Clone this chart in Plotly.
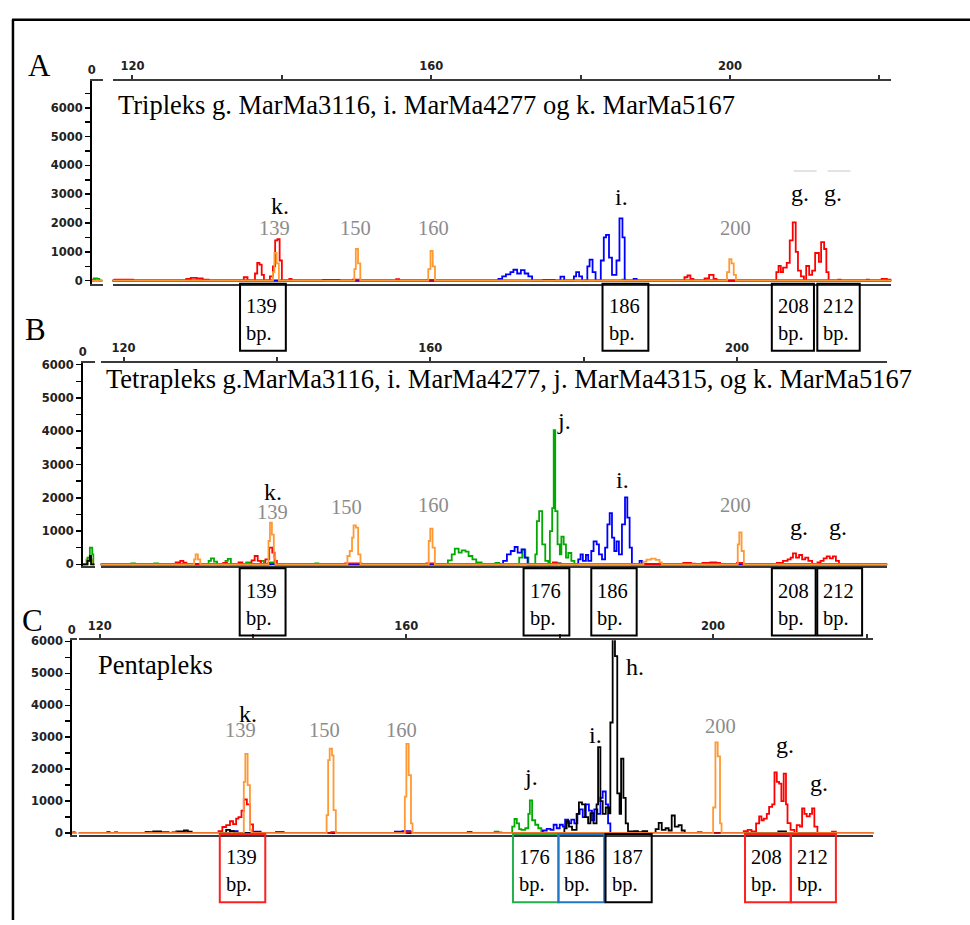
import plotly.graph_objects as go

W, H = 970, 925
def fx(px): return px / W
def fy(py): return 1 - py / H

RED, ORANGE, BLUE, GREEN, BLACK = "#ff0000", "#ff9933", "#0000ff", "#00aa00", "#000000"
GRAY = "#8c8c8c"

# ---------------- Panel A data (bp, RFU) ----------------
A_red = [(117.3,0),(117.6,40),(120.1,0),(127.2,60),(127.8,100),(128.6,80),(129.4,40),(130.2,0),
         (134.9,120),(135.4,0),(136.4,250),(136.7,620),(137.0,560),(137.3,200),(137.6,0),
         (138.4,150),(138.8,500),(139.1,1400),(139.4,1440),(139.7,700),(140.0,0),(141.0,60),(141.3,0),
         (149.5,40),(150.5,0),(155.3,50),(155.7,0),(159.5,30),(160.4,0),
         (193.9,120),(194.3,180),(194.7,60),(195.1,0),(196.6,80),(197.2,200),(197.8,60),(198.2,0),
         (206.2,300),(206.5,510),(206.8,300),(207.1,450),(207.6,620),(208.0,1400),(208.4,2020),
         (208.8,1000),(209.1,350),(209.5,150),(209.9,0),(210.2,510),(210.6,200),(211.0,350),
         (211.4,960),(211.9,650),(212.2,1340),(212.6,1100),(212.9,300),(213.2,0),(214.5,40),(214.8,0),
         (218.3,40),(218.6,0),(220.3,60),(221.0,40),(221.6,0)]
A_orange = [(117.3,0),(138.6,0),(138.8,300),(139.0,960),(139.3,600),(139.6,0),
            (149.5,0),(149.7,400),(149.9,1100),(150.2,600),(150.5,0),
            (159.4,0),(159.6,400),(159.9,1030),(160.2,500),(160.5,0),
            (199.4,0),(199.6,300),(199.9,750),(200.2,600),(200.5,200),(200.8,0),(221.6,0)]
A_blue = [(117.3,0),(145.5,30),(147.7,0),(169.0,60),(169.5,150),(170.0,220),(170.6,300),(171.0,380),
          (171.5,250),(172.0,370),(172.5,250),(173.0,150),(173.5,0),(175.0,30),(176.5,0),
          (177.3,140),(177.8,0),(179.1,150),(179.4,300),(179.8,150),(180.2,0),(180.9,500),(181.2,730),
          (181.6,300),(182.0,0),(182.7,700),(183.1,1500),(183.4,1590),(183.8,800),(184.2,200),
          (184.8,700),(185.2,2160),(185.6,1500),(185.9,0),(187.1,60),(187.5,0),(221.6,0)]
A_green = [(117.3,0),(185.6,40),(186.0,0),(221.6,0)]
A_black = [(117.3,0),(221.6,0)]
A_nar_green = [(0,0),(2,80),(5,60),(7,0),(10,0)]
A_nar_red = [(0,0),(1,40),(3,0),(10,0)]
A_nar_orange = [(0,0),(10,0)]

# ---------------- Panel B data ----------------
B_red = [(117.0,0),(126.8,60),(127.4,100),(127.8,50),(128.2,0),(133.0,40),(133.5,0),(135.0,60),(135.5,0),
         (136.7,120),(137.1,250),(137.5,100),(137.9,0),(138.5,150),(139.0,500),(139.4,350),(139.7,100),(140.0,0),
         (148.9,30),(151.0,0),(159.5,30),(160.6,0),(176.0,60),(176.5,0),(193.0,40),(194.0,20),(194.5,0),
         (195.5,40),(196.5,60),(197.3,40),(197.8,0),(200.0,40),(200.8,0),(205.2,40),(206.0,100),(206.6,150),
         (207.0,200),(207.3,330),(207.7,200),(208.1,280),(208.5,150),(208.9,200),(209.3,100),(209.8,0),
         (210.5,60),(210.9,100),(211.3,180),(211.7,240),(212.1,180),(212.5,240),(212.9,100),(213.3,0),(219.6,0)]
B_orange = [(117.0,0),(129.0,0),(129.2,150),(129.4,300),(129.7,150),(130.0,0),
            (138.7,0),(138.9,700),(139.1,1250),(139.35,890),(139.6,200),(139.8,0),
            (148.9,0),(149.2,250),(149.5,400),(149.8,800),(150.0,1170),(150.3,1100),(150.6,300),(150.9,0),
            (159.6,0),(159.8,700),(160.0,1070),(160.3,500),(160.6,0),
            (187.5,0),(187.8,80),(188.2,140),(188.8,170),(189.4,130),(189.9,60),(190.2,0),
            (199.9,0),(200.1,600),(200.3,960),(200.6,400),(200.9,0),(219.6,0)]
B_green = [(117.0,0),(121.0,30),(121.5,0),(124.0,30),(124.5,0),(131.1,100),(131.4,180),(131.8,80),(132.2,0),
           (133.3,100),(133.6,160),(134.0,0),(136.0,60),(136.5,0),(137.9,100),(138.3,0),(139.2,60),(139.7,0),
           (145.0,30),(145.4,0),(162.3,120),(162.8,300),(163.2,470),(163.7,350),(164.1,420),(164.6,380),
           (165.0,250),(165.5,150),(166.0,60),(166.7,0),(168.5,40),(169.0,0),(171.6,200),(172.0,440),
           (172.4,200),(172.8,0),(173.7,300),(173.9,1300),(174.2,1600),(174.6,600),(175.0,100),(175.4,0),
           (175.6,1000),(175.9,1690),(176.1,4030),(176.3,1600),(176.6,600),(176.9,300),(177.1,830),
           (177.4,600),(177.7,200),(178.0,340),(178.4,100),(178.8,0),(219.6,0)]
B_blue = [(117.0,0),(169.5,100),(170.0,300),(170.5,400),(171.0,520),(171.4,350),(171.9,450),(172.3,200),
          (172.7,0),(179.3,150),(179.6,300),(179.9,100),(180.3,280),(180.6,100),(181.0,400),(181.3,690),
          (181.7,600),(182.0,300),(182.4,150),(182.8,500),(183.1,1200),(183.4,1540),(183.7,800),(184.0,400),
          (184.3,690),(184.6,300),(185.0,1200),(185.4,2010),(185.7,1400),(186.0,500),(186.3,0),
          (187.3,100),(187.6,0),(219.6,0)]
B_black = [(117.0,0),(138.9,40),(139.8,0),(176.5,30),(177.0,0),(219.6,0)]
B_nar_green = [(0,0),(4,200),(6,500),(8,300),(9,0),(10,0)]
B_nar_black = [(0,0),(4,100),(6,250),(7,0),(10,0)]
B_nar_orange = [(0,0),(3,150),(8,0),(10,0)]

# ---------------- Panel C data ----------------
C_red = [(117.27,0),(122.0,30),(122.3,0),(129.5,30),(130.0,0),(135.5,60),(136.0,190),(136.5,250),(137.0,370),
         (137.4,280),(137.8,450),(138.1,500),(138.5,700),(138.8,1050),(139.2,900),(139.6,270),(140.0,0),
         (150.2,30),(150.8,0),(160.0,40),(160.7,0),(198.0,30),(198.5,0),(204.0,60),(204.5,100),(205.0,50),
         (205.6,300),(206.0,520),(206.3,400),(206.6,450),(207.0,600),(207.3,820),(207.7,900),(208.0,1900),
         (208.3,1600),(208.6,1550),(208.9,1000),(209.2,1860),(209.5,900),(209.7,310),(210.1,100),(210.6,0),
         (210.9,250),(211.3,200),(211.6,770),(211.9,600),(212.2,520),(212.6,600),(212.9,770),(213.2,200),
         (213.6,0),(215.5,40),(216.0,0),(220.9,0)]
C_orange = [(117.27,0),(138.6,0),(138.8,1600),(139.0,2480),(139.3,1500),(139.6,100),(139.8,0),
            (149.4,0),(149.6,560),(149.8,2280),(150.0,2640),(150.3,2430),(150.5,720),(150.8,0),
            (159.6,0),(159.8,1140),(160.0,2790),(160.3,1810),(160.6,300),(160.8,0),
            (199.8,0),(200.0,800),(200.3,2840),(200.6,2400),(200.9,300),(201.1,0),(220.9,0)]
C_green = [(117.27,0),(126.0,30),(126.4,0),(131.0,40),(131.5,0),(171.5,40),(172.0,20),(172.4,0),
           (173.8,200),(174.1,440),(174.4,300),(174.7,120),(175.0,100),(175.5,150),(175.9,600),
           (176.1,1020),(176.4,400),(176.8,260),(177.2,150),(177.6,0),(220.9,0)]
C_blue = [(117.27,0),(128.0,30),(129.0,0),(137.0,60),(138.0,0),(140.0,40),(141.0,0),(158.5,40),(159.5,60),
          (160.5,0),(177.8,80),(178.3,130),(178.8,100),(179.2,260),(179.6,150),(180.0,260),(180.4,200),
          (180.7,420),(181.1,300),(181.5,420),(181.9,300),(182.3,600),(182.6,740),(183.0,500),(183.4,900),
          (183.8,700),(184.2,400),(184.5,740),(184.9,600),(185.3,1100),(185.6,1300),(186.0,900),(186.3,300),
          (186.6,0),(220.9,0)]
C_black = [(117.27,0),(121.0,30),(121.3,0),(126.0,30),(127.0,50),(128.0,0),(130.0,50),(131.0,80),(131.5,40),
           (132.0,0),(136.5,100),(137.0,60),(137.5,0),(143.0,30),(144.0,0),(168.0,30),(168.5,0),
           (180.6,150),(180.9,370),(181.2,200),(181.6,100),(182.2,600),(182.5,960),(182.9,900),(183.3,500),
           (183.7,300),(184.0,620),(184.4,300),(184.8,900),(185.0,2690),(185.3,1000),(185.6,600),(186.0,800),
           (186.4,620),(186.6,3460),(186.9,6100),(187.2,5540),(187.5,1240),(187.8,600),(188.0,2330),
           (188.3,1100),(188.6,300),(188.9,50),(189.7,60),(190.2,30),(190.8,60),(191.4,0),(192.5,120),
           (192.9,320),(193.3,100),(193.8,150),(194.2,80),(194.6,550),(195.0,200),(195.5,250),(195.9,80),
           (196.3,0),(204.0,30),(204.5,0),(208.5,50),(209.5,0),(220.9,0)]
C_nar_orange = [(0,0),(10,0)]
C_nar_red = [(0,0),(3,30),(6,0),(10,0)]

# ---------------- Labels ----------------
A_size_lbl = [("139",138.98,1817),("150",149.91,1817),("160",160.36,1817),("200",200.76,1817)]
A_locus_lbl = [("k.",139.76,2605),("i.",185.47,2914),("g.",209.31,3051),("g.",213.8,3051)]
B_size_lbl = [("139",139.39,1583),("150",149.13,1723),("160",160.48,1791),("200",199.81,1791)]
B_locus_lbl = [("k.",139.5,2168),("j.",177.5,4315),("i.",185.06,2519),("g.",208.03,1108),("g.",213.18,1108)]
C_size_lbl = [("139",138.31,3224),("150",149.26,3224),("160",159.42,3224),("200",200.93,3340)]
C_locus_lbl = [("k.",139.35,3715),("j.",176.26,1741),("i.",184.68,3065),("h.",189.78,5209),
               ("g.",209.37,2762),("g.",213.87,1577)]

A_box_lo = [134.4, 182.93, 205.6, 211.69]
A_box_hi = [140.53, 189.07, 211.24, 217.37]
A_box_txt = ["139", "186", "208", "212"]
B_box_lo = [135.15, 172.17, 181.0, 204.55, 210.47]
B_box_hi = [141.13, 178.14, 186.92, 210.26, 216.32]
B_box_txt = ["139", "176", "186", "208", "212"]
C_box_lo = [135.67, 173.9, 179.83, 185.97, 204.16, 210.13]
C_box_hi = [141.6, 179.83, 185.8, 191.99, 210.13, 216.01]
C_box_txt = ["139", "176", "186", "187", "208", "212"]
C_box_col = ["#ff2020", "#22b04a", "#1f78c8", "#000000", "#ff2020", "#ff2020"]

x_ticks = [120, 140, 160, 180, 200, 220]
x_tick_text = ["120", "", "160", "", "200", ""]

fig = go.Figure()

def add_trace(pts, color, xa, ya):
    fig.add_trace(go.Scatter(x=[p[0] for p in pts], y=[p[1] for p in pts], mode="lines",
                             line=dict(color=color, width=1.8, shape="hv"),
                             xaxis=xa, yaxis=ya, hoverinfo="skip", showlegend=False))

# Panel A
for pts, c in [(A_black, BLACK), (A_green, GREEN), (A_blue, BLUE), (A_red, RED), (A_orange, ORANGE)]:
    add_trace(pts, c, "x", "y")
for pts, c in [(A_nar_red, RED), (A_nar_green, GREEN), (A_nar_orange, ORANGE)]:
    add_trace(pts, c, "x2", "y")
# Panel B
for pts, c in [(B_black, BLACK), (B_green, GREEN), (B_blue, BLUE), (B_red, RED), (B_orange, ORANGE)]:
    add_trace(pts, c, "x3", "y2")
for pts, c in [(B_nar_orange, ORANGE), (B_nar_green, GREEN), (B_nar_black, BLACK)]:
    add_trace(pts, c, "x4", "y2")
# Panel C
for pts, c in [(C_green, GREEN), (C_blue, BLUE), (C_black, BLACK), (C_red, RED), (C_orange, ORANGE)]:
    add_trace(pts, c, "x5", "y3")
for pts, c in [(C_nar_red, RED), (C_nar_orange, ORANGE)]:
    add_trace(pts, c, "x6", "y3")

tickfont = dict(family="DejaVu Sans", size=11.5, color="#222", weight="bold")
LINEC = "#3a3a3a"

def main_x(dom, rng, anchor):
    return dict(domain=[fx(dom[0]), fx(dom[1])], range=rng, side="top", anchor=anchor,
                tickmode="array", tickvals=x_ticks, ticktext=x_tick_text,
                ticks="outside", ticklen=4, tickwidth=2, tickcolor="#333",
                showline=True, linecolor=LINEC, linewidth=2, mirror=True,
                showgrid=False, zeroline=False, tickfont=tickfont, fixedrange=True)

def narrow_x(dom, anchor):
    return dict(domain=[fx(dom[0]), fx(dom[1])], range=[0, 10], side="top", anchor=anchor,
                tickmode="array", tickvals=[0], ticktext=["0"], ticks="",
                showline=True, linecolor=LINEC, linewidth=2, mirror=True,
                showgrid=False, zeroline=False, tickfont=tickfont, fixedrange=True)

def y_ax(dom, rng, anchor):
    return dict(domain=[fy(dom[0]), fy(dom[1])], range=rng, anchor=anchor, side="left",
                tickmode="linear", tick0=0, dtick=1000, ticks="outside", ticklen=5,
                tickwidth=1.5, tickcolor="#000",
                minor=dict(dtick=500, tick0=0, ticks="outside", ticklen=5, tickwidth=1.5,
                           tickcolor="#000", showgrid=False),
                showline=True, linecolor="#000", linewidth=1.5,
                showgrid=False, zeroline=False, tickfont=tickfont, fixedrange=True)

fig.update_layout(
    width=W, height=H, margin=dict(l=0, r=0, t=0, b=0),
    paper_bgcolor="white", plot_bgcolor="white", showlegend=False, hovermode=False,
    xaxis=main_x((109, 891), [117.33, 221.6], "y"),
    xaxis2=narrow_x((88, 99), "y"),
    yaxis=y_ax((281, 76), [-103, 6925], "x2"),
    xaxis3=main_x((97, 887), [117.01, 219.61], "y2"),
    xaxis4=narrow_x((79, 91), "y2"),
    yaxis2=y_ax((567, 361), [-59, 6059], "x4"),
    xaxis5=main_x((75, 873), [117.27, 220.9], "y3"),
    xaxis6=narrow_x((68, 73), "y3"),
    yaxis3=y_ax((839, 642), [-62, 6031], "x6"),
)

ann = []
shapes = []
SERIF = "Liberation Serif"

def add_labels(size_lbl, locus_lbl, xa, ya):
    for t, x, y in size_lbl:
        ann.append(dict(text=t, x=x, y=y, xref=xa, yref=ya, showarrow=False,
                        font=dict(family=SERIF, size=20.5, color=GRAY),
                        xanchor="center", yanchor="middle", borderpad=0))
    for t, x, y in locus_lbl:
        ann.append(dict(text=t, x=x, y=y, xref=xa, yref=ya, showarrow=False,
                        font=dict(family=SERIF, size=24, color="#000"),
                        xanchor="center", yanchor="middle", borderpad=0))

def add_boxes(lo, hi, txt, cols, xa, top, bot):
    for a, b, t, c in zip(lo, hi, txt, cols):
        shapes.append(dict(type="rect", xref=xa, yref="paper", x0=a, x1=b,
                           y0=fy(bot), y1=fy(top), line=dict(color=c, width=2)))
        ann.append(dict(text=t + "<br>bp.", x=a, y=fy(top + 37), xref=xa, yref="paper",
                        showarrow=False, xanchor="left", yanchor="middle", align="left",
                        xshift=4, font=dict(family=SERIF, size=20.5, color="#000")))

add_labels(A_size_lbl, A_locus_lbl, "x", "y")
add_labels(B_size_lbl, B_locus_lbl, "x3", "y2")
add_labels(C_size_lbl, C_locus_lbl, "x5", "y3")
add_boxes(A_box_lo, A_box_hi, A_box_txt, ["#000"] * 4, "x", 281, 349)
add_boxes(B_box_lo, B_box_hi, B_box_txt, ["#000"] * 5, "x3", 569, 637)
add_boxes(C_box_lo, C_box_hi, C_box_txt, C_box_col, "x5", 838, 907)

# faint marker lines above g. peaks in panel A
for a, b in [(208.53, 211.6), (213.07, 216.13)]:
    shapes.append(dict(type="line", xref="x", yref="y", x0=a, x1=b, y0=3805, y1=3805,
                       line=dict(color="#c8c8c8", width=1)))

# panel titles
titles = [("Tripleks g. MarMa3116, i. MarMa4277 og k. MarMa5167", 112, 100.5),
          ("Tetrapleks g.MarMa3116, i. MarMa4277, j. MarMa4315, og k. MarMa5167", 100, 377.5),
          ("Pentapleks", 92, 667)]
for t, px, py in titles:
    ann.append(dict(text=t, x=fx(px), y=fy(py), xref="paper", yref="paper", showarrow=False,
                    xanchor="left", yanchor="middle", font=dict(family=SERIF, size=26.5, color="#000")))

for t, px, py in [("A", 22, 60.5), ("B", 19, 327.5), ("C", 16, 622)]:
    ann.append(dict(text=t, x=fx(px), y=fy(py), xref="paper", yref="paper", showarrow=False,
                    xanchor="left", yanchor="middle", font=dict(family=SERIF, size=31, color="#000")))

# outer frame (top and left edges)
shapes.append(dict(type="line", xref="paper", yref="paper", x0=fx(8), x1=1.0, y0=fy(14), y1=fy(14),
                   line=dict(color="#000", width=2.5)))
shapes.append(dict(type="line", xref="paper", yref="paper", x0=fx(9), x1=fx(9), y0=fy(14), y1=0,
                   line=dict(color="#000", width=2.5)))

fig.update_layout(annotations=ann, shapes=shapes)
fig.write_html("out.html",
               config={"displayModeBar": False, "staticPlot": True},
               post_script="document.body.style.margin='0';document.body.style.padding='0';"
                           "document.body.style.overflow='hidden';"
                           "document.documentElement.style.overflow='hidden';")
